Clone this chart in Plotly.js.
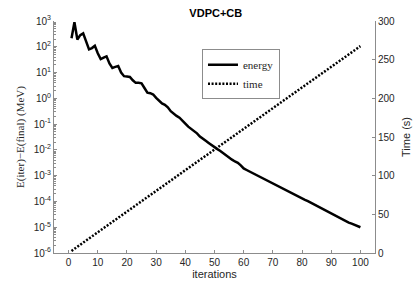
<!DOCTYPE html>
<html>
<head>
<meta charset="utf-8">
<script src="https://cdn.plot.ly/plotly-3.0.1.min.js"></script>
<style>html,body{margin:0;padding:0;background:#fff;}#chart{width:415px;height:284px;}</style>
</head>
<body>
<div id="chart"></div>
<script>
const iterations = [1,2,3,4,5,6,7,8,9,10,11,12,13,14,15,16,17,18,19,20,21,22,23,24,25,26,27,28,29,30,31,32,33,34,35,36,37,38,39,40,41,42,43,44,45,46,47,48,49,50,51,52,53,54,55,56,57,58,59,60,61,62,63,64,65,66,67,68,69,70,71,72,73,74,75,76,77,78,79,80,81,82,83,84,85,86,87,88,89,90,91,92,93,94,95,96,97,98,99,100];
const energy = [214,891,191,282,331,158,79.4,89.1,110,56.2,33.1,38,42.7,22.4,15.1,16.6,17.8,10,7.24,7.08,6.76,5.01,3.98,3.98,3.8,2.51,1.66,1.58,1.41,1.05,0.794,0.631,0.562,0.447,0.316,0.251,0.209,0.178,0.141,0.105,0.0794,0.0661,0.0562,0.0437,0.0331,0.0263,0.0224,0.0186,0.0151,0.0126,0.0107,0.00912,0.00741,0.00603,0.00501,0.00417,0.00355,0.00316,0.00251,0.00191,0.00166,0.00145,0.00126,0.0011,9.77e-4,8.51e-4,7.41e-4,6.46e-4,5.5e-4,4.79e-4,4.17e-4,3.72e-4,3.24e-4,2.82e-4,2.51e-4,2.19e-4,1.91e-4,1.66e-4,1.48e-4,1.32e-4,1.15e-4,1.02e-4,8.91e-5,7.76e-5,6.76e-5,5.89e-5,5.13e-5,4.37e-5,3.8e-5,3.31e-5,2.88e-5,2.51e-5,2.19e-5,1.91e-5,1.7e-5,1.51e-5,1.38e-5,1.23e-5,1.1e-5,1e-5];
const timeSec = [2.7,5.4,8.0,10.7,13.4,16.1,18.7,21.4,24.1,26.8,29.4,32.1,34.8,37.5,40.1,42.8,45.5,48.2,50.8,53.5,56.2,58.9,61.5,64.2,66.9,69.6,72.2,74.9,77.6,80.3,82.9,85.6,88.3,91.0,93.6,96.3,99.0,101.7,104.3,107.0,109.7,112.4,115.0,117.7,120.4,123.1,125.7,128.4,131.1,133.8,136.4,139.1,141.8,144.5,147.1,149.8,152.5,155.2,157.8,160.5,163.2,165.9,168.5,171.2,173.9,176.6,179.2,181.9,184.6,187.3,189.9,192.6,195.3,198.0,200.6,203.3,206.0,208.7,211.3,214.0,216.7,219.4,222.0,224.7,227.4,230.1,232.7,235.4,238.1,240.8,243.4,246.1,248.8,251.5,254.1,256.8,259.5,262.2,264.8,267.5];
const xTicks = [0,10,20,30,40,50,60,70,80,90,100];
const yLeftTicks = [1e-6,1e-5,1e-4,1e-3,1e-2,1e-1,1,10,100,1000];
const yLeftLabels = ['10<sup>-6</sup>','10<sup>-5</sup>','10<sup>-4</sup>','10<sup>-3</sup>','10<sup>-2</sup>','10<sup>-1</sup>','10<sup>0</sup>','10<sup>1</sup>','10<sup>2</sup>','10<sup>3</sup>'];
const yRightTicks = [0,50,100,150,200,250,300];

const axisColor = '#8c8c8c';
const tickFont = {family:'Liberation Sans, Arial, sans-serif', size:10, color:'#262626'};

const traces = [
  {x: iterations, y: energy, name: 'energy', type: 'scatter', mode: 'lines',
   line: {color: '#000', width: 2.5}, yaxis: 'y'},
  {x: iterations, y: timeSec, name: 'time', type: 'scatter', mode: 'lines',
   line: {color: '#000', width: 2.5, dash: '2px,1.6px'}, yaxis: 'y2'}
];

const layout = {
  width: 415, height: 284,
  margin: {l: 53.5, r: 39.5, t: 21, b: 31, pad: 0},
  paper_bgcolor: '#fff', plot_bgcolor: '#fff',
  showlegend: true,
  title: {text: '<b>VDPC+CB</b>', x: 0.52, xanchor: 'center', y: 0.955, yanchor: 'middle',
          font: {family: 'Liberation Sans, Arial, sans-serif', size: 11, color: '#000'}},
  xaxis: {range: [-5, 105], tickvals: xTicks, ticks: 'inside', ticklen: 3, tickcolor: axisColor,
          showline: true, linecolor: axisColor, linewidth: 1, showgrid: false, zeroline: false,
          tickfont: tickFont, mirror: false,
          title: {text: 'iterations', standoff: 2, font: {family: 'Liberation Sans, Arial, sans-serif', size: 11, color: '#262626'}}},
  yaxis: {type: 'log', range: [-6, 3], tickvals: yLeftTicks, ticktext: yLeftLabels,
          ticks: 'inside', ticklen: 3, tickcolor: axisColor,
          minor: {ticks: 'inside', ticklen: 1.5, tickcolor: axisColor, dtick: 'D1', showgrid: false},
          showline: true, linecolor: axisColor, linewidth: 1, showgrid: false, zeroline: false,
          tickfont: tickFont,
          title: {text: 'E(iter)\u2212E(final) (MeV)', standoff: 6,
                  font: {family: 'Liberation Serif, DejaVu Serif, serif', size: 11, color: '#262626'}}},
  yaxis2: {overlaying: 'y', side: 'right', range: [0, 300], tickvals: yRightTicks,
           ticks: 'inside', ticklen: 3, tickcolor: axisColor,
           showline: true, linecolor: axisColor, linewidth: 1, showgrid: false, zeroline: false,
           tickfont: tickFont,
           title: {text: 'Time (s)', standoff: 8, font: {family: 'Liberation Sans, Arial, sans-serif', size: 11, color: '#262626'}}},
  legend: {x: 0.461, y: 0.878, xanchor: 'left', yanchor: 'top',
           bgcolor: '#fff', bordercolor: axisColor, borderwidth: 1,
           font: {family: 'Liberation Serif, DejaVu Serif, serif', size: 11, color: '#262626'},
           tracegroupgap: 0, itemwidth: 30, traceorder: 'normal'}
};

Plotly.newPlot('chart', traces, layout, {displayModeBar: false, staticPlot: true});
</script>
</body>
</html>
